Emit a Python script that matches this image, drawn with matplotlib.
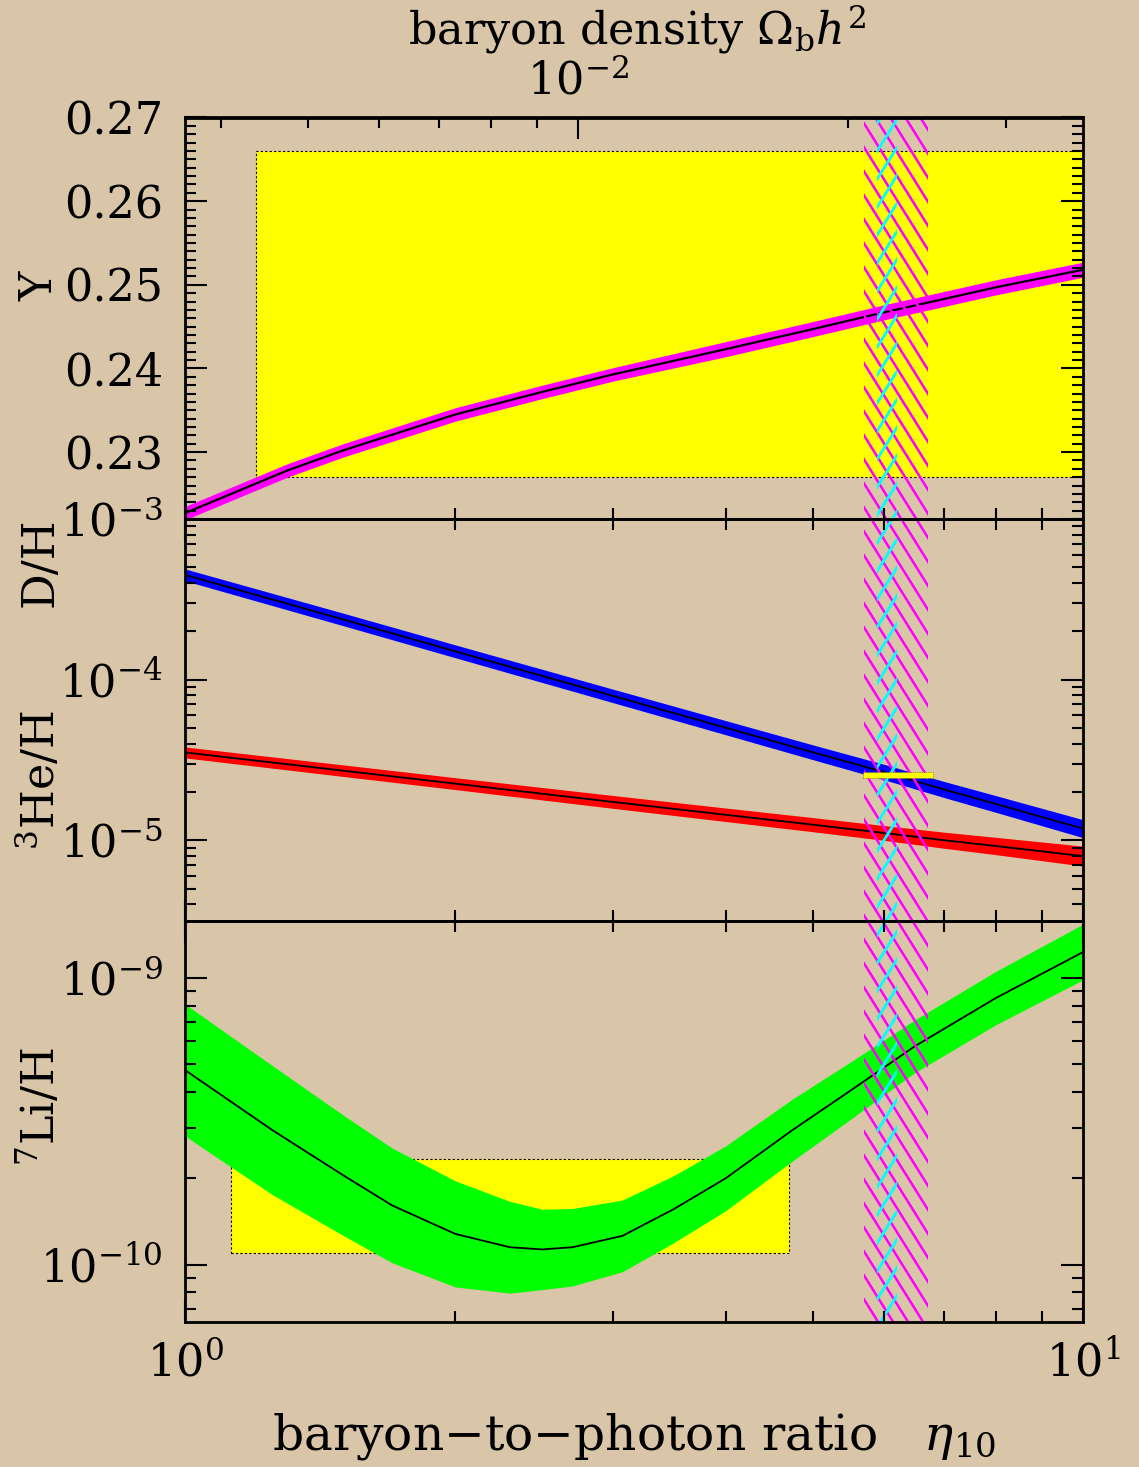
import numpy as np
import matplotlib.pyplot as plt
from matplotlib.patches import Rectangle
from matplotlib.lines import Line2D
from matplotlib.transforms import IdentityTransform
from matplotlib.ticker import NullFormatter, MultipleLocator, FormatStrFormatter

plt.rcParams['font.family'] = ['DejaVu Serif']
plt.rcParams['mathtext.fontset'] = 'dejavuserif'

# 4He mass fraction Y vs eta_10
eta_y = [1.0, 1.3, 1.5, 2.0, 2.5, 3.0, 4.0, 5.0, 6.0, 7.0, 8.0, 10.0]
y_mid = [0.2227, 0.2278, 0.2302, 0.2345, 0.2372, 0.2393, 0.2423, 0.2447, 0.2467, 0.2483, 0.2497, 0.2518]
y_err = [0.0008, 0.0008, 0.0008, 0.0008, 0.0008, 0.0008, 0.0009, 0.0009, 0.0009, 0.0009, 0.0009, 0.0009]

# D/H and 3He/H
eta_dh = [1.0, 1.5, 2.0, 3.0, 4.0, 5.0, 6.0, 7.0, 8.0, 10.0]
dh_mid = [4.49e-4, 2.37e-4, 1.50e-4, 7.9e-5, 5.02e-5, 3.53e-5, 2.66e-5, 2.07e-5, 1.68e-5, 1.18e-5]
dh_dex = [0.037, 0.039, 0.040, 0.042, 0.044, 0.046, 0.048, 0.050, 0.052, 0.056]
he3_mid = [3.52e-5, 2.71e-5, 2.25e-5, 1.73e-5, 1.44e-5, 1.25e-5, 1.11e-5, 1.00e-5, 9.2e-6, 7.96e-6]
he3_dex = [0.034, 0.036, 0.037, 0.040, 0.042, 0.044, 0.046, 0.050, 0.054, 0.062]

# 7Li/H
eta_li = [1.0, 1.25, 1.5, 1.7, 2.0, 2.3, 2.5, 2.7, 3.07, 3.5, 4.0, 4.75, 5.5, 6.5, 8.0, 10.0]
li_mid = [4.77e-10, 2.95e-10, 2.05e-10, 1.61e-10, 1.28e-10, 1.15e-10, 1.13e-10, 1.15e-10,
          1.26e-10, 1.56e-10, 2.00e-10, 2.95e-10, 4.03e-10, 5.78e-10, 8.51e-10, 1.23e-9]
li_dex = [0.23, 0.225, 0.21, 0.20, 0.185, 0.16, 0.14, 0.135, 0.125, 0.117, 0.113, 0.108,
          0.10, 0.092, 0.093, 0.097]

# observed abundances (yellow boxes)
y_obs_eta = [1.2, 12.0]
y_obs = [0.227, 0.266]
dh_obs_eta = [5.69, 6.81]
dh_obs = [2.43e-5, 2.64e-5]
li_obs_eta = [1.125, 4.71]
li_obs = [1.10e-10, 2.33e-10]

# eta ranges (hatched bands)
eta_wide = [5.70, 6.72]
eta_narrow = [5.90, 6.21]
omega_per_eta = 1 / 273.9

BG = '#d9c5a8'


def hatch_band(ax, lims, color, step, slope, lw=1.8):
    tr = ax.get_xaxis_transform()
    clip = Rectangle((lims[0], 0), lims[1] - lims[0], 1, transform=tr, fc='none', ec='none')
    ax.add_patch(clip)
    (x0, y0), (x1, y1) = tr.transform([(lims[0], 0), (lims[1], 1)])
    ends = np.array([y0, y1]) / slope
    k0 = np.floor((x0 - ends.max() - x0) / step) - 1
    k1 = np.ceil((x1 - ends.min() - x0) / step) + 1
    for k in np.arange(k0, k1 + 1):
        c = x0 + k * step
        ln = Line2D(c + ends, [y0, y1], transform=IdentityTransform(), color=color, lw=lw, zorder=4)
        ax.add_artist(ln)
        ln.set_clip_path(clip)


fig = plt.figure(figsize=(11.39, 14.67), dpi=100, facecolor=BG)
L, W = 185 / 1139, 898 / 1139
H = 401.5 / 1467
b3 = 1 - 1322 / 1467
ax3 = fig.add_axes([L, b3, W, H])
ax2 = fig.add_axes([L, b3 + H, W, H])
ax1 = fig.add_axes([L, b3 + 2 * H, W, H])

for ax in (ax1, ax2, ax3):
    ax.set_facecolor('none')
    ax.set_xscale('log')
    ax.set_xlim(1, 10)
    ax.xaxis.set_minor_formatter(NullFormatter())
    ax.tick_params(which='both', direction='in', top=True, right=True, width=1.5,
                   labelsize=32, labelbottom=False)
    ax.tick_params(axis='y', pad=16)
    ax.tick_params(axis='x', pad=14)
    ax.tick_params(which='major', length=16)
    ax.tick_params(which='minor', length=8)
    for s in ax.spines.values():
        s.set_linewidth(2)
        s.set_zorder(10)
    ax.xaxis.set_zorder(10)
    ax.yaxis.set_zorder(10)

# panel 1: Y
ax1.set_ylim(0.222, 0.27)
ax1.yaxis.set_major_locator(MultipleLocator(0.01))
ax1.yaxis.set_minor_locator(MultipleLocator(0.001))
ax1.yaxis.set_major_formatter(FormatStrFormatter('%.2f'))
ax1.tick_params(which='both', top=False)
ax1.add_patch(Rectangle((y_obs_eta[0], y_obs[0]), y_obs_eta[1] - y_obs_eta[0], y_obs[1] - y_obs[0],
                        fc='#ffff00', ec='black', lw=0.8, ls=(0, (2, 2)), zorder=1))
ym, ye = np.array(y_mid), np.array(y_err)
ax1.fill_between(eta_y, ym - ye, ym + ye, color='#ff00ff', lw=0, zorder=2)
ax1.plot(eta_y, y_mid, color='black', lw=1.6, zorder=3)

sec = ax1.secondary_xaxis('top', functions=(lambda e: e * omega_per_eta, lambda o: o / omega_per_eta))
sec.tick_params(which='both', direction='in', width=1.5, labelsize=32, pad=10)
sec.tick_params(which='major', length=16)
sec.tick_params(which='minor', length=8)
sec.xaxis.set_minor_formatter(NullFormatter())
sec.spines['top'].set_linewidth(2)

# panel 2: D/H and 3He/H
ax2.set_yscale('log')
ax2.set_ylim(10 ** -5.5, 1e-3)
ax2.yaxis.set_minor_formatter(NullFormatter())
for mid, dex, col in ((dh_mid, dh_dex, '#0000ff'), (he3_mid, he3_dex, '#ff0000')):
    m, d = np.array(mid), np.array(dex)
    ax2.fill_between(eta_dh, m * 10 ** -d, m * 10 ** d, color=col, lw=0, zorder=2)
    ax2.plot(eta_dh, mid, color='black', lw=1.3, zorder=3)
ax2.add_patch(Rectangle((dh_obs_eta[0], dh_obs[0]), dh_obs_eta[1] - dh_obs_eta[0], dh_obs[1] - dh_obs[0],
                        fc='#ffff00', ec='#555500', lw=0.4, ls=(0, (2, 2)), zorder=5))

# panel 3: 7Li/H
ax3.set_yscale('log')
ax3.set_ylim(10 ** -10.2, 10 ** -8.8)
ax3.yaxis.set_minor_formatter(NullFormatter())
ax3.tick_params(labelbottom=True)
ax3.add_patch(Rectangle((li_obs_eta[0], li_obs[0]), li_obs_eta[1] - li_obs_eta[0], li_obs[1] - li_obs[0],
                        fc='#ffff00', ec='black', lw=0.8, ls=(0, (2, 2)), zorder=1))
lm, ld = np.array(li_mid), np.array(li_dex)
ax3.fill_between(eta_li, lm * 10 ** -ld, lm * 10 ** ld, color='#00ff00', lw=0, zorder=2)
ax3.plot(eta_li, li_mid, color='black', lw=1.3, zorder=3)

for ax in (ax1, ax2, ax3):
    hatch_band(ax, eta_wide, '#ff00ff', 15, -1.6)
    hatch_band(ax, eta_narrow, '#00ffff', 17.5, 1.6, lw=2.0)

# labels
fig.text(637 / 1139, 1 - 30 / 1467, r'baryon density $\Omega_{\mathrm{b}}h^2$',
         ha='center', va='center', fontsize=32)
fig.text(634 / 1139, 1 - 1437 / 1467, r'baryon$-$to$-$photon ratio   $\eta_{10}$',
         ha='center', va='center', fontsize=35)
for txt, ypix in (('Y', 286), ('D/H', 562), (r'$^3$He/H', 780), (r'$^7$Li/H', 1107)):
    fig.text(40 / 1139, 1 - ypix / 1467, txt, rotation=90, ha='center', va='center', fontsize=32)

fig.savefig('out.png', dpi=100, facecolor=BG)
